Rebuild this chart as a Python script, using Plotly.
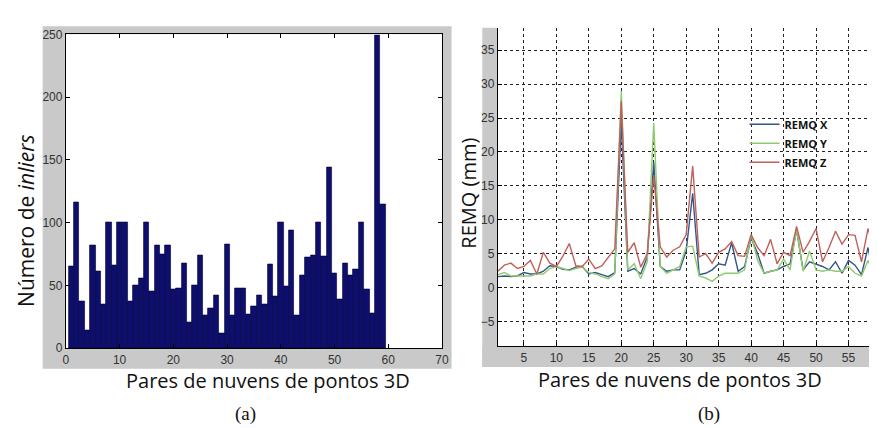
import plotly.graph_objects as go

# ---------------- data ----------------
# (a) number of inliers per pair of 3D point clouds
bar_x = list(range(1, 60))
inliers = [65, 116, 37, 14, 82, 61, 35, 100, 66, 100,
           100, 37, 50, 56, 100, 45, 82, 75, 82, 47,
           48, 68, 21, 50, 74, 26, 32, 42, 12, 83,
           26, 48, 48, 27, 33, 42, 35, 67, 41, 100,
           49, 94, 26, 58, 72, 74, 100, 73, 144, 60,
           39, 68, 58, 63, 100, 47, 28, 249, 115]

# (b) RMSE (REMQ) per pair, in mm
line_x = list(range(1, 61))
remq_x = [1.6, 1.7, 1.6, 1.7, 2.2, 2.0, 2.0, 2.4, 3.2, 3.1,
          2.7, 2.6, 3.0, 3.1, 2.0, 2.2, 1.9, 1.6, 2.2, 24.5,
          2.4, 2.8, 2.0, 4.5, 18.5, 3.1, 2.4, 2.6, 2.6, 5.4,
          13.9, 1.9, 2.1, 2.6, 3.5, 3.3, 6.6, 2.4, 3.1, 7.3,
          5.0, 2.1, 2.4, 2.6, 3.1, 3.5, 8.5, 2.6, 3.8, 3.5,
          3.1, 2.6, 3.8, 2.1, 4.0, 3.3, 1.9, 5.9, 1.2, 1.0]
remq_y = [1.9, 2.2, 1.7, 1.7, 1.6, 1.7, 2.0, 2.0, 2.8, 3.1,
          2.8, 2.5, 2.8, 3.0, 2.2, 2.0, 1.6, 1.3, 2.0, 29.0,
          2.6, 3.5, 1.3, 3.8, 24.3, 3.1, 2.1, 2.6, 3.1, 6.0,
          6.1, 1.7, 1.4, 0.9, 1.7, 2.1, 2.1, 2.1, 2.6, 7.8,
          4.0, 2.1, 2.4, 2.6, 4.2, 2.6, 8.7, 2.4, 5.4, 2.6,
          2.4, 2.6, 2.4, 2.4, 3.1, 2.1, 1.7, 4.0, 1.7, 1.5]
remq_z = [2.4, 3.3, 3.6, 2.8, 3.1, 4.0, 2.0, 5.2, 3.6, 3.1,
          4.6, 6.5, 3.2, 3.1, 4.2, 2.8, 3.2, 4.5, 5.7, 27.5,
          5.2, 6.6, 3.0, 5.0, 16.5, 6.0, 4.5, 5.5, 6.0, 7.8,
          17.9, 4.5, 5.0, 3.6, 5.2, 5.7, 6.8, 4.7, 4.6, 7.8,
          5.9, 4.7, 7.1, 3.5, 5.2, 4.7, 9.0, 5.2, 6.8, 8.7,
          3.8, 5.9, 8.3, 6.4, 7.8, 7.7, 3.8, 8.7, 5.5, 6.5]

series_names = ["REMQ X", "REMQ Y", "REMQ Z"]
x_ticks_a = [0, 10, 20, 30, 40, 50, 60, 70]
y_ticks_a = [0, 50, 100, 150, 200, 250]
x_ticks_b = [5, 10, 15, 20, 25, 30, 35, 40, 45, 50, 55, 60]
y_ticks_b = [-5, 0, 5, 10, 15, 20, 25, 30, 35]

# ---------------- layout helpers (pixels -> paper) ----------------
W, H = 877, 428
def px(v):
    return v / W
def py(v):
    return 1 - v / H

tick_font = dict(family="Liberation Sans, Arial, sans-serif", size=12, color="#333333")
title_font = dict(family="Open Sans, sans-serif", size=20, color="#111111")
grey = "#c9c9c9"

fig = go.Figure()

fig.add_trace(go.Bar(
    x=bar_x, y=inliers, width=1.0,
    marker=dict(color="#0e0e6e", line=dict(color="#000033", width=0.6)),
    xaxis="x", yaxis="y", showlegend=False,
))

line_colors = ["#34558a", "#8fcb6c", "#c0605a"]
for name, ys, c in zip(series_names, [remq_x, remq_y, remq_z], line_colors):
    fig.add_trace(go.Scatter(
        x=line_x, y=ys, mode="lines", name=name,
        line=dict(color=c, width=1.4),
        xaxis="x2", yaxis="y2",
    ))

shapes = [
    # panel (a) grey figure frame + white axes area
    dict(type="rect", xref="paper", yref="paper", layer="below",
         x0=px(32), x1=px(445.7), y0=py(365.7), y1=py(11.7),
         fillcolor=grey, line=dict(width=0)),
    dict(type="rect", xref="paper", yref="paper", layer="below",
         x0=px(55.5), x1=px(436), y0=py(344.5), y1=py(20),
         fillcolor="white", line=dict(width=0)),
    # panel (b) grey bands (left and bottom)
    dict(type="rect", xref="paper", yref="paper", layer="below",
         x0=px(476.7), x1=px(492.5), y0=py(364), y1=py(13.3),
         fillcolor=grey, line=dict(width=0)),
    dict(type="rect", xref="paper", yref="paper", layer="below",
         x0=px(476.7), x1=1, y0=py(364), y1=py(342.7),
         fillcolor=grey, line=dict(width=0)),
]

annotations = [
    dict(text="Número de <i>inliers</i>", x=px(15), y=py(212), xref="paper", yref="paper",
         textangle=-90, showarrow=False, font=dict(family="Open Sans, sans-serif", size=21, color="#111111"),
         xanchor="center", yanchor="middle"),
    dict(text="Pares de nuvens de pontos 3D", x=px(260), y=py(378), xref="paper", yref="paper",
         showarrow=False, font=title_font, xanchor="center", yanchor="middle"),
    dict(text="(a)", x=px(237), y=py(413), xref="paper", yref="paper",
         showarrow=False, font=dict(family="Liberation Serif, serif", size=19, color="#111111"),
         xanchor="center", yanchor="middle"),
    dict(text="REMQ (mm)", x=px(463), y=py(184), xref="paper", yref="paper",
         textangle=-90, showarrow=False, font=dict(family="Open Sans, sans-serif", size=20, color="#111111"),
         xanchor="center", yanchor="middle"),
    dict(text="Pares de nuvens de pontos 3D", x=px(677), y=py(377), xref="paper", yref="paper",
         showarrow=False, font=title_font, xanchor="center", yanchor="middle"),
    dict(text="(b)", x=px(706), y=py(413), xref="paper", yref="paper",
         showarrow=False, font=dict(family="Liberation Serif, serif", size=19, color="#111111"),
         xanchor="center", yanchor="middle"),
]

fig.update_layout(
    width=W, height=H,
    margin=dict(l=0, r=0, t=0, b=0),
    paper_bgcolor="white", plot_bgcolor="rgba(0,0,0,0)",
    bargap=0,
    shapes=shapes, annotations=annotations,
    xaxis=dict(domain=[px(55.5), px(436)], range=[0, 70], tickvals=x_ticks_a,
               showline=True, linecolor="black", linewidth=1, mirror="ticks",
               ticks="inside", ticklen=4, tickcolor="black", showgrid=False, zeroline=False,
               tickfont=tick_font, anchor="y", fixedrange=True),
    yaxis=dict(domain=[py(344.5), py(20)], range=[0, 250], tickvals=y_ticks_a,
               showline=True, linecolor="black", linewidth=1, mirror="ticks",
               ticks="inside", ticklen=4, tickcolor="black", showgrid=False, zeroline=False,
               tickfont=tick_font, anchor="x", fixedrange=True),
    xaxis2=dict(domain=[px(492.5), 1], range=[1, 59.54], tickvals=x_ticks_b,
                showline=True, linecolor="black", linewidth=1, mirror=False,
                ticks="inside", ticklen=4, tickcolor="black",
                showgrid=True, gridcolor="#222222", griddash="dot", gridwidth=1,
                zeroline=False, tickfont=tick_font, anchor="y2", fixedrange=True),
    yaxis2=dict(domain=[py(342.7), py(13.3)], range=[-8.7, 38.3], tickvals=y_ticks_b,
                showline=True, linecolor="black", linewidth=1, mirror=False,
                ticks="inside", ticklen=4, tickcolor="black",
                showgrid=True, gridcolor="#222222", griddash="dot", gridwidth=1,
                zeroline=False, tickfont=tick_font, anchor="x2", fixedrange=True),
    legend=dict(x=px(742), y=py(98), xanchor="left", yanchor="top",
                bgcolor="rgba(255,255,255,0)", borderwidth=0,
                font=dict(family="Open Sans, sans-serif", size=11, color="#111111", weight="bold"),
                itemwidth=30, tracegroupgap=0),
    showlegend=True,
)

fig.write_html("out.html")
